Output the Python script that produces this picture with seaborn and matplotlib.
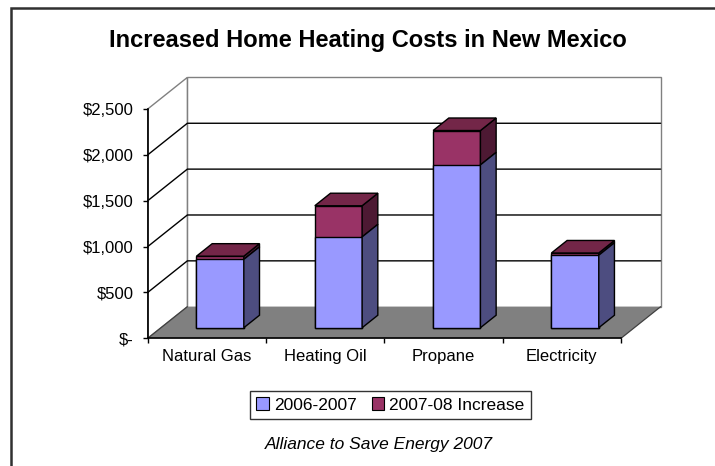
import matplotlib
matplotlib.use("Agg")
import matplotlib.pyplot as plt
from matplotlib.patches import Polygon, Rectangle, Patch
import seaborn as sns

# data (US$ per household)
categories = ["Natural Gas", "Heating Oil", "Propane", "Electricity"]
base_0607 = [745, 990, 1775, 790]
increase_0708 = [35, 340, 375, 25]
series_names = ["2006-2007", "2007-08 Increase"]
y_ticks = [0, 500, 1000, 1500, 2000, 2500]
y_labels = ["$-", "$500", "$1,000", "$1,500", "$2,000", "$2,500"]
title = "Increased Home Heating Costs in New Mexico"
source = "Alliance to Save Energy 2007"

totals = [b + i for b, i in zip(base_0607, increase_0708)]

BLUE, BLUE_SIDE = "#9999FF", "#4D4D80"
RED, RED_SIDE, RED_TOP = "#993366", "#4D1933", "#732648"
FLOOR, EDGE = "#808080", "#808080"

sns.set_style("white")
plt.rcParams["font.family"] = ["Liberation Sans", "DejaVu Sans"]
plt.rcParams["text.color"] = "black"
plt.rcParams["xtick.color"] = "black"
plt.rcParams["ytick.color"] = "black"

fig = plt.figure(figsize=(7.15, 4.66), dpi=100)
ax = fig.add_axes([0.2066, 0.2740, 0.6619, 0.4921])
ax.patch.set_alpha(0)

# fake 3D box: depth offset in data units
DX, DY = 0.335, 344.5
F0, FD = 0.335, 0.396   # bar front position / bar depth as fraction of box depth
x_lo, x_hi, y_top = -0.5, 3.5, 2500

ax.add_patch(Rectangle((x_lo + DX, DY), x_hi - x_lo, y_top, fc="white", ec=EDGE,
                       lw=1, zorder=0.5, clip_on=False))
ax.add_patch(Polygon([(x_lo, 0), (x_lo + DX, DY), (x_lo + DX, y_top + DY), (x_lo, y_top)],
                     closed=True, fc="white", ec=EDGE, lw=1, zorder=0.5, clip_on=False))
for v in y_ticks[1:-1]:
    ax.plot([x_lo, x_lo + DX, x_hi + DX], [v, v + DY, v + DY], color="black", lw=1,
            zorder=0.6, clip_on=False)
ax.add_patch(Polygon([(x_lo, 0), (x_hi, 0), (x_hi + DX, DY), (x_lo + DX, DY)],
                     closed=True, fc=FLOOR, ec="none", zorder=0.8, clip_on=False))
for xs in (x_lo, x_hi):
    ax.plot([xs, xs + DX], [0, DY], color="#404040", lw=0.9, zorder=0.9, clip_on=False)

# stacked bars: total in red behind, base in blue in front
sns.barplot(x=categories, y=totals, color=RED, width=0.4, saturation=1, edgecolor="black",
            linewidth=1, errorbar=None, ax=ax, zorder=2)
sns.barplot(x=categories, y=base_0607, color=BLUE, width=0.4, saturation=1, edgecolor="black",
            linewidth=1, errorbar=None, ax=ax, zorder=3)

sx, sy = F0 * DX, F0 * DY
bdx, bdy = FD * DX, FD * DY
layers = [(ax.containers[0], base_0607, totals, RED_SIDE, RED_TOP, 2),
          (ax.containers[1], [0] * len(categories), base_0607, BLUE_SIDE, None, 3)]
for cont, lows, highs, side_c, top_c, z in layers:
    for p, lo, hi in zip(cont, lows, highs):
        p.set_x(p.get_x() + sx)
        p.set_y(p.get_y() + sy)
        x0 = p.get_x()
        x1 = x0 + p.get_width()
        y0, y1 = lo + sy, hi + sy
        ax.add_patch(Polygon([(x1, y0), (x1 + bdx, y0 + bdy), (x1 + bdx, y1 + bdy), (x1, y1)],
                             closed=True, fc=side_c, ec="black", lw=1, zorder=z, clip_on=False))
        if top_c:
            ax.add_patch(Polygon([(x0, y1), (x1, y1), (x1 + bdx, y1 + bdy), (x0 + bdx, y1 + bdy)],
                                 closed=True, fc=top_c, ec="black", lw=1, zorder=z, clip_on=False))

ax.set_xlim(x_lo, x_hi)
ax.set_ylim(0, y_top)
ax.set_xlabel("")
ax.set_ylabel("")
ax.set_xticks([-0.5, 0.5, 1.5, 2.5, 3.5])
ax.set_xticklabels([])
ax.set_xticks(range(len(categories)), minor=True)
ax.set_xticklabels(categories, minor=True)
ax.tick_params(axis="x", which="major", bottom=True, direction="out", length=3.6, width=1,
               color="black")
ax.tick_params(axis="x", which="minor", bottom=True, length=0, pad=8, labelsize=12,
               labelcolor="black")
ax.set_yticks(y_ticks)
ax.set_yticklabels(y_labels)
ax.tick_params(axis="y", left=True, direction="out", length=3.4, width=1, color="black",
               pad=7, labelsize=12, labelcolor="black")
for s in ["top", "right"]:
    ax.spines[s].set_visible(False)
for s in ["left", "bottom"]:
    ax.spines[s].set_color("black")
    ax.spines[s].set_linewidth(1.2)
    ax.spines[s].set_zorder(4)

handles = [Patch(fc=BLUE, ec="black", lw=0.8), Patch(fc=RED, ec="black", lw=0.8)]
leg = fig.legend(handles, series_names, loc="center", bbox_to_anchor=(0.5462, 0.1309), ncol=2,
                 frameon=True, fancybox=False, edgecolor="black", fontsize=12.5,
                 handlelength=0.7, handleheight=0.7, handletextpad=0.3, columnspacing=0.9,
                 borderpad=0.35)
leg.get_frame().set_linewidth(1)
for t in leg.get_texts():
    t.set_color("black")

fig.text(0.515, 0.8998, title, ha="center", va="baseline", fontsize=17, fontweight="bold",
         color="black")
fig.text(0.530, 0.0365, source, ha="center", va="baseline", fontsize=12.5, style="italic",
         color="black")

fig.add_artist(Rectangle((0.0154, -0.1), 1.0, 1.0839, fill=False, ec="#303030", lw=1.8,
                         transform=fig.transFigure))

fig.savefig("out.png", dpi=100)
